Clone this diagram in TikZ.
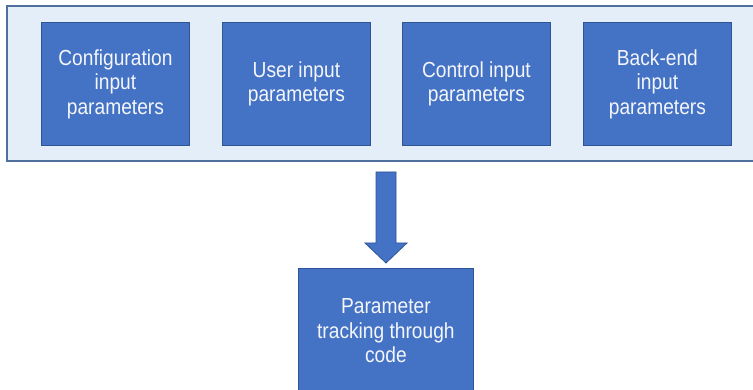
\documentclass[tikz,border=0pt]{standalone}
\usepackage{fontspec}
\setmainfont{Liberation Sans}[FakeStretch=0.88]
\definecolor{boxblue}{HTML}{4472C4}
\definecolor{boxedge}{HTML}{2F5597}
\definecolor{panel}{HTML}{E3EEF9}
\definecolor{paneledge}{HTML}{4F6F9F}
\definecolor{txt}{HTML}{F4F6FA}
\begin{document}
\begin{tikzpicture}[x=1pt,y=-1pt,
  inbox/.style={draw=boxedge, line width=0.8pt, fill=boxblue, minimum width=148pt, minimum height=123pt,
    inner sep=0pt, text=txt, align=center, font=\fontsize{21.8}{24.5}\selectfont, anchor=north west},
  panelbox/.style={draw=paneledge, line width=1.3pt, fill=panel}]
\useasboundingbox (0,0) rectangle (753,390);
\draw[panelbox] (7,6) rectangle (754,161);
\node[inbox] (cfg) at (41,22) {Configuration\\input\\parameters};
\node[inbox] (usr) at (222,22) {User input\\parameters};
\node[inbox] (ctl) at (402,22) {Control input\\parameters};
\node[inbox] (bck) at (583,22) {Back-end\\input\\parameters};
\node[inbox, minimum width=175pt, minimum height=125pt] (trk) at (298,268) {Parameter\\tracking through\\code};
\draw[draw=boxedge, line width=0.8pt, fill=boxblue]
  (376,172) -- (396,172) -- (396,243) -- (407,243) -- (386,263) -- (365,243) -- (376,243) -- cycle;
\end{tikzpicture}
\end{document}
